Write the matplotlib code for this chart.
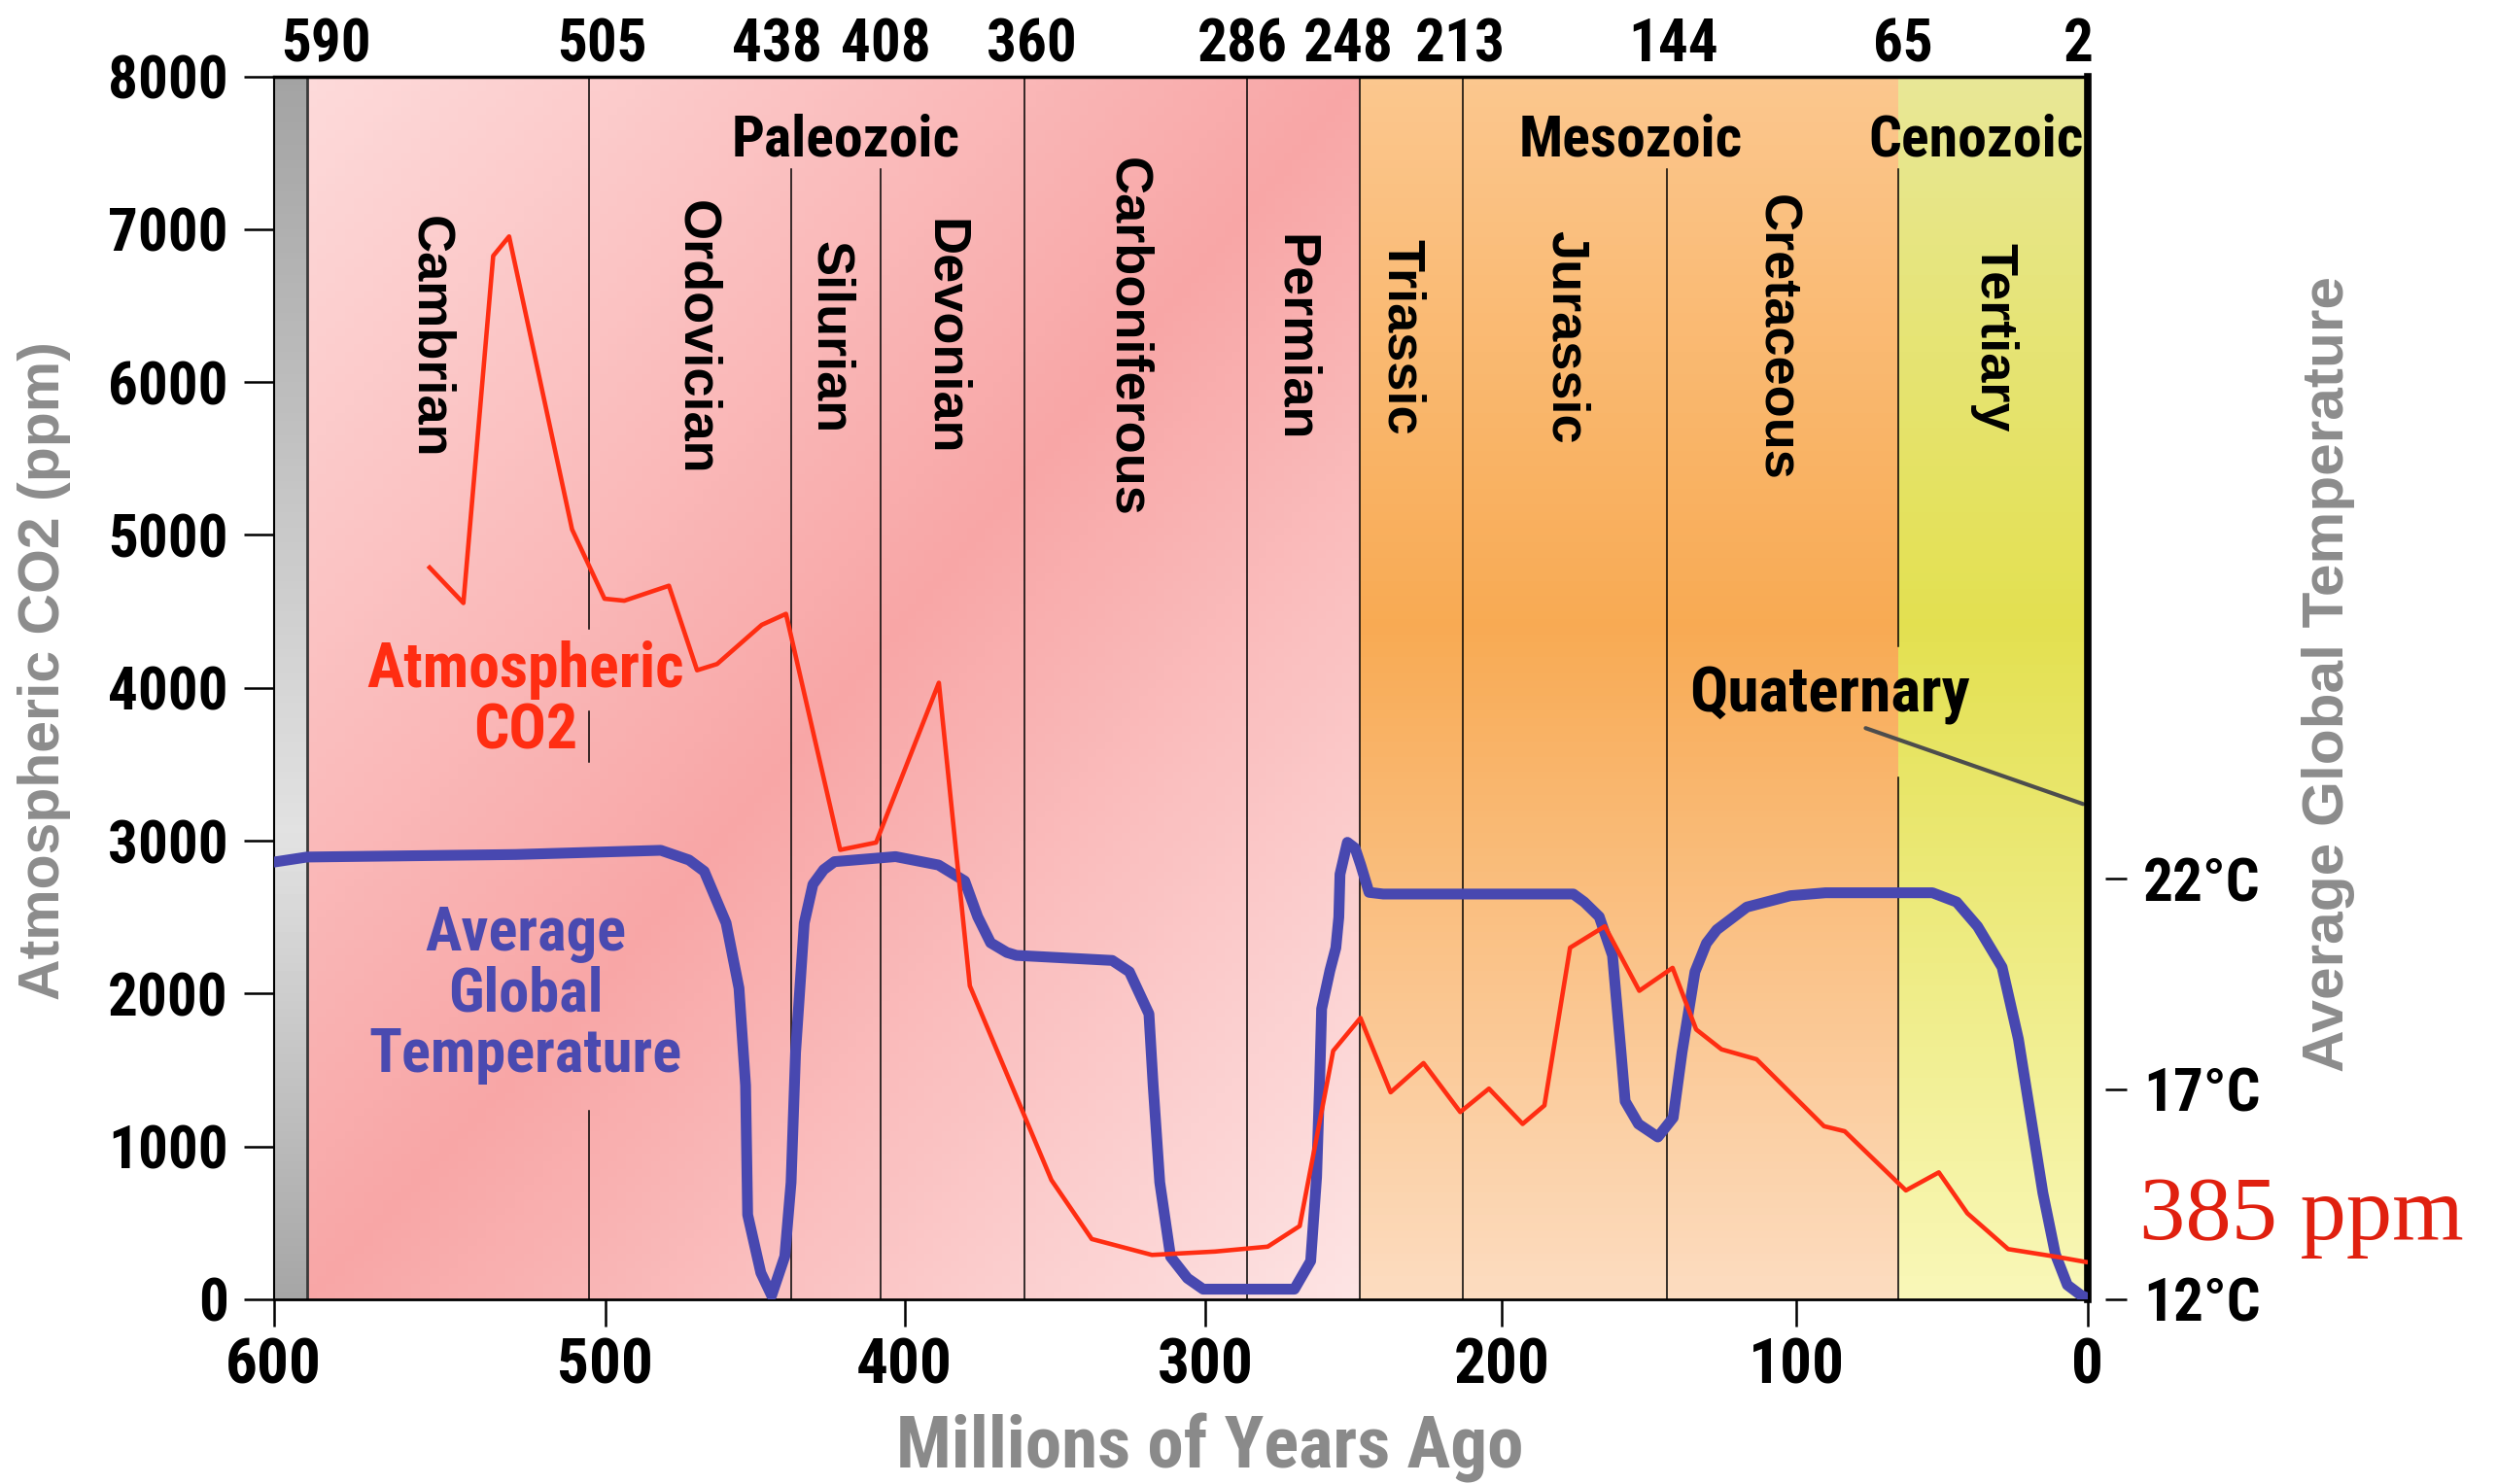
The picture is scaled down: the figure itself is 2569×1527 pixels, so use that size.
import numpy as np
import matplotlib
matplotlib.use("Agg")
import matplotlib.pyplot as plt
import matplotlib.font_manager as fm
from matplotlib.colors import LinearSegmentedColormap

# ---------------- data ----------------
boundary_ages = [590, 505, 438, 408, 360, 286, 248, 213, 144, 65, 2]
x_ticks = [600, 500, 400, 300, 200, 100, 0]
ppm_ticks = [0, 1000, 2000, 3000, 4000, 5000, 6000, 7000, 8000]
temp_ticks = [12, 17, 22]

periods = ["Cambrian", "Ordovician", "Silurian", "Devonian", "Carboniferous",
           "Permian", "Triassic", "Jurassic", "Cretaceous", "Tertiary"]
eras = ["Paleozoic", "Mesozoic", "Cenozoic"]

co2_age = [553, 542.8, 533.8, 529, 510, 500.2, 493.6, 478.7, 469.3, 462.6, 447.7,
           439.6, 421.5, 409.5, 388.6, 378.3, 360.8, 351.2, 337.8, 317.8, 296.8,
           279, 268.2, 256.9, 247.7, 237.5, 226.4, 214, 204.3, 192.9, 185.5, 176.8,
           165, 153.3, 142, 134, 125.4, 113.5, 90.5, 83.4, 62.4, 51.1, 41.3,
           27.3, 10.5, 0.7]
co2_ppm = [4787, 4555, 6826, 6953, 5037, 4583, 4570, 4668, 4115, 4156, 4412,
           4484, 2940, 2988, 4033, 2050, 1230, 780, 394, 290, 312,
           344, 479, 1625, 1840, 1354, 1545, 1225, 1378, 1147, 1268, 2300,
           2440, 2018, 2168, 1765, 1635, 1570, 1132, 1099, 712, 830, 562,
           328, 277, 244]

temp_age = [600, 590, 527, 481.4, 472, 466.9, 459.6, 455.3, 453.1, 452.4, 448,
            444.4, 440, 437.9, 436.4, 433.5, 430.6, 427, 423.4, 403, 388.7, 380,
            375.7, 371.4, 366, 362.8, 331, 325.3, 318.8, 317.4, 315.2, 311.6,
            306, 300.8, 270, 264.5, 262.5, 261.5, 260.8, 258, 256, 255, 254.6,
            252.1, 249.5, 247.6, 244.8, 240, 175.7, 172, 166.9, 162.4, 159.5,
            158.1, 153.6, 147, 141.8, 138.8, 134.4, 130.5, 127, 116.8, 102, 90,
            53.3, 45, 37.8, 29.4, 23.8, 19.6, 15.4, 11.1, 7, 2.2, 0.5]
temp_c = [22.40, 22.52, 22.58, 22.68, 22.45, 22.18, 20.95, 19.40, 17.09, 14.01,
          12.63, 12.09, 13.02, 14.78, 17.87, 20.95, 21.87, 22.22, 22.41, 22.53,
          22.33, 21.95, 21.10, 20.48, 20.25, 20.18, 20.06, 19.79, 18.79, 17.09,
          14.78, 13.01, 12.50, 12.24, 12.24, 12.91, 14.91, 17.09, 18.91, 19.82,
          20.36, 21.09, 22.11, 22.87, 22.73, 22.33, 21.68, 21.64, 21.64, 21.45,
          21.10, 20.18, 17.87, 16.71, 16.17, 15.86, 16.32, 17.87, 19.79, 20.47,
          20.79, 21.33, 21.60, 21.67, 21.67, 21.45, 20.87, 19.90, 18.19, 16.36,
          14.53, 13.07, 12.34, 12.09, 12.04]

PPM_PER_DEG = 275.0  # 5 degC spans 1375 ppm on the chart

# ---------------- fonts ----------------
avail = {f.name for f in fm.fontManager.ttflist}
COND = None
for n in ["Roboto Condensed", "Liberation Sans Narrow", "DejaVu Sans Condensed",
          "Open Sans Condensed"]:
    if n in avail:
        COND = n
        break
sc = 1.0
if COND is None:
    COND = "Liberation Sans"
    sc = 0.85
WIDE = "Liberation Sans"
SERIF = "Liberation Serif"

# ---------------- x scale (original chart's uneven tick spacing) ----------------
_sa = [-100, 0, 100, 200, 300, 400, 500, 600, 700]
_sp = [-183, 0, 183, 368, 554, 743, 931, 1139, 1347]


def fwd(a):
    return np.interp(a, _sa, _sp)


def inv(p):
    return np.interp(p, _sp, _sa)


fig = plt.figure(figsize=(25.69, 15.27), dpi=100)
ax = fig.add_axes([0.1097, 0.1245, 0.7264, 0.8240])
ax.set_xscale("function", functions=(fwd, inv))
ax.set_xlim(600, 0)
ax.set_ylim(0, 8000)


def gradient(a0, a1, colors, mode, nx=120, ny=160):
    xe = np.linspace(a0, a1, nx + 1)
    ye = np.linspace(0, 8000, ny + 1)
    u = (np.arange(nx) + 0.5) / nx
    v = 1 - (np.arange(ny) + 0.5) / ny
    U, V = np.meshgrid(u, v)
    if mode == "diag":
        T = 0.5 * (U + V)
    else:
        T = V
    cmap = LinearSegmentedColormap.from_list("g", colors)
    ax.pcolormesh(xe, ye, T, cmap=cmap, vmin=0, vmax=1, shading="flat",
                  zorder=0, rasterized=True, edgecolors="none")


gradient(600, 590, [(0, "#a3a3a3"), (0.62, "#e2e2e2"), (1, "#a6a6a6")], "v", nx=4)
gradient(590, 248, [(0, "#fddada"), (0.5, "#f8a6a6"), (1, "#fde4e4")], "diag")
gradient(248, 65, [(0, "#fbc78e"), (0.45, "#f8aa53"), (1, "#fcdcc0")], "v")
gradient(65, 0, [(0, "#e8e796"), (0.45, "#e3e050"), (1, "#f9f7b8")], "v")

# boundary lines (some interrupted by labels as in the original)
line_kw = dict(color="black", lw=1.1, zorder=1)
ax.axvline(590, color="#3a3a3a", lw=2.0, zorder=1)
ax.axvline(505, 0, 0.154, **line_kw)
ax.axvline(505, 0.4393, 0.4811, **line_kw)
ax.axvline(505, 0.548, 1, **line_kw)
for b in (438, 408, 144):
    ax.axvline(b, 0, 0.9245, **line_kw)
for b in (360, 286, 248, 213):
    ax.axvline(b, 0, 1, **line_kw)
ax.axvline(65, 0, 0.427, **line_kw)
ax.axvline(65, 0.534, 0.9245, **line_kw)

# top boundary labels (small horizontal nudges as in the original)
label_nudge = [14.4, 9.9, -10.1, 3.7, 5.2, -3.5, -7.9, -2.1, 5.2, 3.5, -2.7]
for b, dx in zip(boundary_ages, label_nudge):
    ax.annotate(str(b), xy=(b, 1), xycoords=("data", "axes fraction"),
                xytext=(dx, 11), textcoords="offset points", ha="center",
                va="baseline", fontsize=44 * sc, fontweight="bold",
                family=COND, color="black")

# era labels
era_x = [419.7, 156.2, 38.3]
for name, x in zip(eras, era_x):
    ax.text(x, 0.935, name, transform=ax.get_xaxis_transform(), ha="center",
            va="baseline", fontsize=43 * sc, fontweight="bold", family=COND,
            zorder=3)

# period labels
period_x = [552.9, 469.7, 425, 386.8, 325.9, 269.9, 233.9, 178.4, 107, 32.2]
for name, x in zip(periods, period_x):
    ax.text(x, 0.7865, name, transform=ax.get_xaxis_transform(), rotation=-90,
            ha="center", va="center", fontsize=39, fontweight="bold",
            family=WIDE, zorder=3)

# series labels
ax.text(524, 0.489, "Atmospheric\nCO2", transform=ax.get_xaxis_transform(),
        ha="center", va="center", color="#ff2d12", fontsize=46 * sc,
        fontweight="bold", family=COND, linespacing=1.05, zorder=3)
ax.text(524, 0.249, "Average\nGlobal\nTemperature",
        transform=ax.get_xaxis_transform(), ha="center", va="center",
        color="#4a4ab0", fontsize=45 * sc, fontweight="bold", family=COND,
        linespacing=1.05, zorder=3)

ax.annotate("Quaternary", xy=(1.6, 3240), xytext=(88.5, 3948),
            textcoords="data", ha="center", va="center", fontsize=47 * sc,
            fontweight="bold", family=COND, zorder=3,
            arrowprops=dict(arrowstyle="-", color="#4d4d4d", lw=3.0,
                            shrinkA=0, shrinkB=0, relpos=(0.6, 0.0)))

# axes styling
ax.set_xticks(x_ticks)
ax.set_xticklabels([str(t) for t in x_ticks])
ax.set_yticks(ppm_ticks)
ax.set_yticklabels([str(t) for t in ppm_ticks])
ax.minorticks_off()
ax.tick_params(axis="x", direction="out", length=20, width=1.8, pad=8,
               labelsize=47 * sc, top=False)
ax.tick_params(axis="y", direction="out", length=22, width=1.8, pad=12,
               labelsize=44 * sc, right=False)
for lbl in ax.get_xticklabels() + ax.get_yticklabels():
    lbl.set_family(COND)
    lbl.set_fontweight("bold")
ax.spines["top"].set_linewidth(2.5)
ax.spines["left"].set_linewidth(1.5)
ax.spines["bottom"].set_linewidth(2.0)
ax.spines["right"].set_linewidth(5.5)
for s in ax.spines.values():
    s.set_zorder(5)

# temperature axis
ax2 = ax.twinx()
ax2.set_ylim(12, 12 + 8000 / PPM_PER_DEG)
ax2.set_yticks(temp_ticks)
ax2.set_yticklabels([f"{t}°C" for t in temp_ticks])
ax2.minorticks_off()
ax2.spines["right"].set_position(("outward", 13))
for s in ax2.spines.values():
    s.set_visible(False)
ax2.tick_params(axis="y", direction="out", length=16, width=1.8, pad=12,
                labelsize=44 * sc)
for lbl in ax2.get_yticklabels():
    lbl.set_family(COND)
    lbl.set_fontweight("bold")

ax2.plot(temp_age, temp_c, color="#4848b0", lw=8, solid_joinstyle="round",
         solid_capstyle="round", zorder=2)
ax2.plot(co2_age, co2_ppm, color="#ff2d12", lw=3.3, transform=ax.transData,
         solid_joinstyle="round", zorder=3)

# axis titles
fig.text(0.0179, 0.548, "Atmospheric CO2 (ppm)", rotation=90, ha="center",
         va="center", fontsize=42.5, fontweight="bold", family=WIDE,
         color="#8c8c8c")
fig.text(0.9324, 0.546, "Average Global Temperature", rotation=90,
         ha="center", va="center", fontsize=43.5, fontweight="bold",
         family=WIDE, color="#8c8c8c")
fig.text(0.4847, 0.011, "Millions of Years Ago", ha="center", va="baseline",
         fontsize=54 * sc, fontweight="bold", family=COND, color="#8a8a8a")
fig.text(0.9218, 0.165, "385 ppm", ha="center", va="baseline", fontsize=68,
         family=SERIF, color="#e0200f")

fig.savefig("out.png", dpi=100, facecolor="white")
